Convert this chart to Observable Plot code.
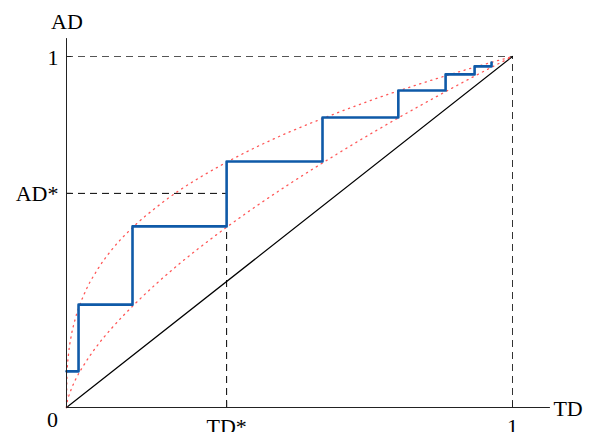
<!DOCTYPE html>
<html>
<head>
<meta charset="utf-8">
<script src="https://cdn.jsdelivr.net/npm/d3@7"></script>
<script src="https://cdn.jsdelivr.net/npm/@observablehq/plot@0.6"></script>
<style>
  html, body { margin: 0; padding: 0; background: #fff; }
  svg { display: block; }
</style>
</head>
<body>
<div id="chart"></div>
<script>
// Step curve (blue)
const stepTD = [0, 0.027, 0.148, 0.359, 0.574, 0.744, 0.850, 0.915, 0.953];
const stepAD = [0.103, 0.293, 0.516, 0.701, 0.826, 0.903, 0.949, 0.972, 0.983];

// Band curves (red dotted)
const bandTD  = [0, 0.001, 0.005, 0.01, 0.02, 0.04, 0.07, 0.1, 0.15, 0.2, 0.25, 0.3, 0.4, 0.5, 0.6, 0.7, 0.8, 0.9, 1];
const upperAD = [0, 0.09, 0.157, 0.2, 0.254, 0.324, 0.394, 0.447, 0.515, 0.569, 0.616, 0.656, 0.726, 0.785, 0.836, 0.883, 0.925, 0.964, 1];
const lowerAD = [0, 0.011, 0.032, 0.05, 0.079, 0.123, 0.178, 0.224, 0.291, 0.351, 0.406, 0.457, 0.551, 0.637, 0.717, 0.793, 0.865, 0.934, 1];

// Marked point
const TDstar = 0.359;
const ADstar = 0.610;

// Labels
const xTickLabels = ["TD*", "1"];
const yTickLabels = ["1", "AD*"];
const xAxisLabel = "TD";
const yAxisLabel = "AD";
const originLabel = "0";

const stepData = stepTD.map((x, i) => ({x, y: stepAD[i]}));
const upperData = bandTD.map((x, i) => ({x, y: upperAD[i]}));
const lowerData = bandTD.map((x, i) => ({x, y: lowerAD[i]}));

const xTicks = [TDstar, 1];
const yTicks = [1, ADstar];
const font = "'Liberation Serif', 'DejaVu Serif', serif";

const plot = Plot.plot({
  width: 589,
  height: 432,
  marginLeft: 66,
  marginRight: 77,
  marginTop: 56,
  marginBottom: 25,
  style: {fontFamily: font, fontSize: "22px", background: "white", overflow: "visible"},
  x: {domain: [0, 1], axis: null},
  y: {domain: [0, 1], axis: null},
  marks: [
    // dashed guide lines
    Plot.ruleY([1], {x1: 0, x2: 1, stroke: "#555", strokeDasharray: "7 5", strokeWidth: 1}),
    Plot.ruleX([1], {y1: 0, y2: 1, stroke: "#333", strokeDasharray: "7 5", strokeWidth: 1}),
    Plot.ruleY([ADstar], {x1: 0, x2: TDstar, stroke: "black", strokeDasharray: "7 5", strokeWidth: 1}),
    Plot.ruleX([TDstar], {y1: 0, y2: ADstar, stroke: "black", strokeDasharray: "7 5", strokeWidth: 1}),
    // diagonal
    Plot.line([{x: 0, y: 0}, {x: 1, y: 1}], {x: "x", y: "y", stroke: "black", strokeWidth: 1.2}),
    // red dotted bands
    Plot.line(upperData, {x: "x", y: "y", curve: "monotone-x", stroke: "#ff3a3a", strokeWidth: 1.3, strokeDasharray: "1.2 4.6", strokeOpacity: 0.85}),
    Plot.line(lowerData, {x: "x", y: "y", curve: "monotone-x", stroke: "#ff3a3a", strokeWidth: 1.3, strokeDasharray: "1.2 4.6", strokeOpacity: 0.85}),
    // blue step
    Plot.line(stepData, {x: "x", y: "y", curve: "step-after", stroke: "#0f5aa8", strokeWidth: 2.6}),
    // axes lines
    Plot.ruleY([0], {x1: 0, x2: 1.085, stroke: "#222", strokeWidth: 1}),
    Plot.ruleX([0], {y1: 0, y2: 1.051, stroke: "#222", strokeWidth: 1}),
    // ticks
    Plot.ruleY(yTicks, {x1: 0, x2: 0.012, stroke: "#222", strokeWidth: 1}),
    Plot.ruleX(xTicks, {y1: 0, y2: 0.016, stroke: "#222", strokeWidth: 1}),
    // tick labels
    Plot.text(yTicks, {x: 0, y: d => d, text: (d, i) => yTickLabels[i], textAnchor: "end", dx: -8, dy: 1, fontSize: 22, fill: "black"}),
    Plot.text(xTicks, {x: d => d, y: 0, text: (d, i) => xTickLabels[i], textAnchor: "middle", dy: 19, fontSize: 22, fill: "black"}),
    Plot.text([0], {x: 0, y: 0, text: [originLabel], textAnchor: "middle", dx: -14, dy: 12, fontSize: 22, fill: "black"}),
    // axis labels
    Plot.text([0], {x: 1.085, y: 0, text: [xAxisLabel], textAnchor: "start", dx: 3, dy: 1, fontSize: 22, fill: "black"}),
    Plot.text([0], {x: 0, y: 1.051, text: [yAxisLabel], textAnchor: "middle", dx: 0.5, dy: -17, fontSize: 22, fill: "black"})
  ]
});
document.getElementById("chart").appendChild(plot);
</script>
</body>
</html>
